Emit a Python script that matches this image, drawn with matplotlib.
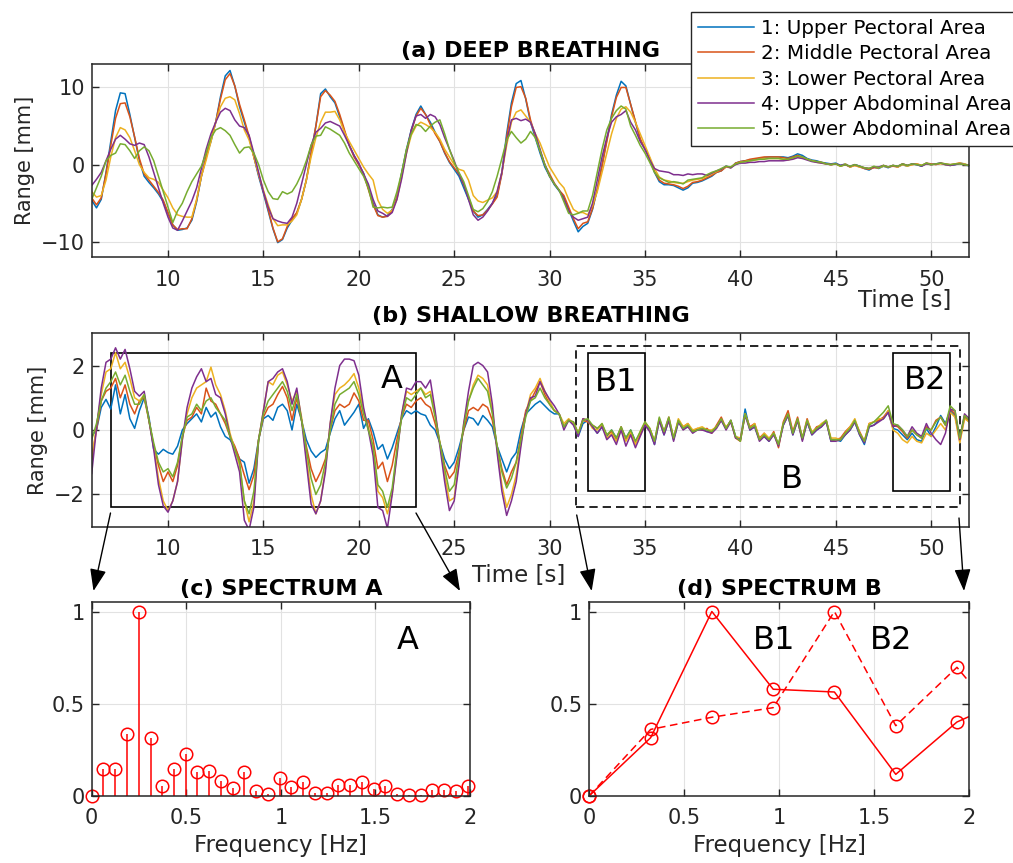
import numpy as np
import matplotlib.pyplot as plt
from matplotlib.patches import Rectangle, FancyArrowPatch
from matplotlib.ticker import FormatStrFormatter

W, H = 1013, 863

# time grid (s) shared by both breathing records, one sample every 0.25 s
t = np.linspace(6, 52, 185)

labels = ['1: Upper Pectoral Area', '2: Middle Pectoral Area', '3: Lower Pectoral Area',
          '4: Upper Abdominal Area', '5: Lower Abdominal Area']
colors = ['#0072BD', '#D95319', '#EDB120', '#7E2F8E', '#77AC30']

# (a) deep breathing, range in mm
deep_1 = [-4.6, -5.6, -4.5, -1.0, 3.0, 7.0, 9.3, 9.2,
          6.5, 3.5, 0.5, -1.5, -2.3, -3.0, -3.8, -4.8,
          -6.3, -7.8, -8.5, -8.4, -8.2, -7.2, -4.8, -1.5,
          1.0, 3.0, 5.5, 8.8, 11.5, 12.2, 10.2, 7.5,
          5.5, 3.5, 1.0, -1.5, -3.7, -6.0, -8.3, -10.1,
          -9.7, -8.2, -7.2, -6.3, -4.5, -2.0, 1.5, 5.0,
          9.2, 9.8, 8.8, 8.0, 6.2, 4.3, 2.5, 1.2,
          0.0, -1.1, -3.0, -5.0, -6.5, -6.8, -6.6, -5.8,
          -4.2, -1.0, 2.0, 4.5, 6.5, 7.6, 6.5, 5.5,
          4.2, 3.0, 1.5, 0.3, -0.6, -1.5, -3.0, -4.5,
          -6.0, -6.8, -6.5, -5.8, -5.0, -4.0, -1.0, 4.0,
          8.0, 10.5, 10.9, 8.5, 5.5, 3.5, 1.5, -0.3,
          -1.5, -2.6, -3.4, -4.2, -5.8, -7.3, -8.7, -8.0,
          -7.6, -5.8, -3.2, 0.0, 3.2, 6.5, 9.0, 10.8,
          10.2, 7.8, 5.5, 3.2, 2.0, 0.8, -1.0, -2.2,
          -2.6, -2.6, -2.7, -3.0, -3.3, -3.0, -2.4, -2.3,
          -2.1, -1.8, -1.5, -1.0, -0.8, -0.2, -0.4, 0.2,
          0.4, 0.5, 0.6, 0.7, 0.8, 0.9, 1.0, 1.0,
          1.0, 1.0, 0.9, 1.1, 1.4, 1.2, 0.8, 0.6,
          0.5, 0.3, 0.2, 0.1, 0.2, -0.1, 0.1, -0.3,
          0.0, -0.2, -0.5, -0.7, -0.3, -0.5, -0.2, -0.4,
          -0.1, -0.3, 0.0, -0.2, 0.1, 0.0, -0.2, 0.2,
          0.0, 0.1, 0.2, 0.0, -0.1, 0.0, 0.2, 0.1,
          -0.2]
deep_2 = [-4.3, -5.2, -4.3, -1.2, 2.5, 6.0, 7.9, 8.0,
          6.2, 3.6, 0.8, -1.2, -2.0, -2.8, -3.6, -4.6,
          -6.2, -7.8, -8.4, -8.3, -8.3, -7.0, -4.6, -1.5,
          1.0, 3.2, 5.5, 8.5, 11.0, 11.8, 10.2, 7.8,
          5.8, 3.7, 1.0, -1.3, -3.5, -5.8, -8.2, -10.0,
          -9.6, -8.0, -7.0, -6.2, -4.5, -2.0, 1.5, 5.0,
          8.8, 9.6, 9.0, 8.2, 6.5, 4.5, 2.5, 1.0,
          0.0, -1.2, -3.2, -5.2, -6.6, -6.8, -6.7, -6.0,
          -4.2, -1.2, 1.8, 4.3, 6.3, 7.3, 6.5, 5.2,
          4.0, 3.0, 1.6, 0.4, -0.4, -1.2, -2.6, -4.2,
          -6.0, -6.6, -6.5, -5.9, -5.1, -4.2, -1.2, 3.5,
          7.5, 10.0, 10.1, 8.6, 5.8, 3.8, 1.8, 0.0,
          -1.2, -2.4, -3.3, -4.0, -5.5, -7.0, -8.3, -7.6,
          -7.4, -5.7, -3.2, -0.2, 3.0, 6.2, 8.7, 10.0,
          10.0, 7.8, 5.6, 3.4, 2.0, 0.8, -0.9, -2.0,
          -2.4, -2.5, -2.6, -2.8, -3.1, -2.8, -2.3, -2.2,
          -2.0, -1.7, -1.4, -1.0, -0.8, -0.3, -0.4, 0.2,
          0.4, 0.5, 0.7, 0.8, 0.9, 1.0, 1.0, 1.0,
          1.0, 0.9, 0.8, 1.0, 1.2, 1.0, 0.7, 0.5,
          0.4, 0.3, 0.1, 0.0, 0.1, -0.2, 0.0, -0.3,
          -0.1, -0.3, -0.5, -0.6, -0.4, -0.4, -0.1, -0.3,
          -0.2, -0.3, 0.1, -0.1, 0.0, 0.1, -0.1, 0.2,
          0.1, 0.0, 0.2, 0.1, 0.0, 0.1, 0.2, 0.0,
          -0.1]
deep_3 = [-3.5, -4.2, -4.0, -2.0, 1.0, 3.5, 4.8, 4.5,
          3.5, 1.8, 0.0, -1.0, -1.7, -1.9, -2.3, -3.3,
          -4.3, -5.6, -6.5, -6.7, -6.8, -6.8, -4.5, -1.5,
          0.6, 3.0, 5.5, 7.5, 8.6, 8.8, 8.4, 6.6,
          4.5, 3.2, 1.0, -1.2, -3.3, -5.2, -7.0, -7.9,
          -7.8, -7.8, -7.3, -6.5, -4.5, -2.0, 1.0, 3.5,
          5.5, 6.8, 6.8, 6.9, 5.8, 4.2, 3.0, 1.9,
          0.8, -0.3, -1.2, -2.0, -4.6, -5.8, -6.3, -5.9,
          -4.5, -1.5, 1.5, 3.8, 5.0, 5.5, 5.2, 4.8,
          4.2, 3.3, 2.0, 1.0, 0.0, -0.6, -0.8, -2.0,
          -4.0, -4.7, -4.9, -4.6, -4.3, -3.5, -1.0, 2.5,
          5.5, 6.8, 7.1, 6.3, 5.5, 4.0, 2.8, 1.2,
          -0.3, -1.3, -2.3, -3.0, -4.5, -5.8, -6.2, -6.2,
          -6.5, -5.3, -3.5, -1.0, 1.5, 4.0, 6.0, 7.2,
          7.5, 6.8, 5.5, 4.0, 2.5, 1.0, -0.5, -1.6,
          -2.0, -2.1, -2.3, -2.4, -2.4, -2.2, -2.0, -1.9,
          -1.8, -1.5, -1.2, -0.9, -0.6, -0.3, -0.3, 0.1,
          0.3, 0.4, 0.5, 0.6, 0.7, 0.8, 0.8, 0.8,
          0.8, 0.7, 0.6, 0.8, 1.0, 0.9, 0.7, 0.5,
          0.3, 0.2, 0.1, 0.0, 0.1, -0.2, 0.1, -0.3,
          -0.1, -0.3, -0.4, -0.5, -0.3, -0.4, -0.2, -0.3,
          -0.1, -0.3, 0.0, -0.2, 0.0, 0.1, -0.1, 0.1,
          0.0, 0.1, 0.1, 0.0, -0.1, 0.1, 0.2, 0.1,
          -0.1]
deep_4 = [-2.7, -1.9, -1.0, 0.5, 2.0, 3.3, 3.8, 3.3,
          2.7, 2.5, 2.8, 2.6, 1.0, -1.0, -3.0, -5.0,
          -6.8, -8.2, -8.5, -7.3, -6.0, -4.7, -3.0, -0.5,
          2.0, 4.0, 5.5, 6.8, 7.3, 7.0, 5.8, 5.0,
          4.8, 3.8, 1.5, -1.0, -3.5, -5.5, -7.0, -7.3,
          -7.5, -7.6, -6.8, -5.0, -2.5, 0.0, 2.5, 4.2,
          4.7, 5.4, 5.6, 5.3, 5.0, 3.8, 2.5, 1.2,
          0.2, -1.2, -2.5, -4.5, -6.0, -6.3, -6.7, -6.2,
          -4.5, -1.8, 1.5, 4.5, 6.3, 6.5, 6.0, 6.5,
          6.2, 5.2, 3.5, 2.0, 0.5, -1.2, -2.5, -4.5,
          -6.5, -7.2, -6.8, -6.0, -5.0, -3.5, -1.0, 3.0,
          5.8, 6.0, 5.7, 5.9, 5.5, 4.0, 2.0, 0.0,
          -1.5, -2.5, -3.3, -4.5, -6.0, -6.8, -7.2, -7.0,
          -6.8, -5.0, -2.0, 1.0, 3.5, 5.5, 6.2, 6.5,
          7.0, 5.5, 4.5, 3.0, 2.0, 0.6, -0.5, -0.8,
          -0.9, -1.0, -1.3, -1.3, -1.4, -1.2, -1.3, -1.2,
          -1.2, -1.4, -1.1, -0.8, -0.6, -0.2, -0.4, 0.0,
          0.2, 0.2, 0.3, 0.3, 0.4, 0.4, 0.5, 0.5,
          0.5, 0.5, 0.6, 0.7, 0.9, 0.8, 0.6, 0.4,
          0.3, 0.2, 0.1, 0.0, 0.1, -0.1, 0.0, -0.2,
          0.0, -0.2, -0.4, -0.5, -0.3, -0.3, -0.1, -0.3,
          -0.1, -0.2, 0.1, -0.1, 0.1, 0.0, -0.2, 0.1,
          0.0, 0.1, 0.2, 0.0, -0.1, 0.0, 0.1, 0.0,
          -0.1]
deep_5 = [-4.5, -3.0, -1.5, 0.5, 1.2, 1.5, 2.7, 2.6,
          1.8, 0.8, 1.8, 2.3, 1.8, 0.5, -1.5, -3.5,
          -5.5, -7.5, -6.0, -5.0, -3.5, -2.2, -1.2, -0.2,
          1.5, 3.5, 4.5, 4.8, 4.4, 3.8, 2.6, 1.5,
          2.2, 2.3, 1.5, 0.0, -2.0, -3.5, -4.4, -4.5,
          -3.5, -3.8, -3.5, -2.5, -1.2, 0.5, 2.5, 3.7,
          3.8, 4.9, 4.6, 4.2, 3.8, 2.8, 1.5, 0.5,
          -0.5, -1.5, -3.0, -5.5, -5.6, -5.5, -5.6, -5.5,
          -3.5, -1.0, 2.0, 4.0, 5.2, 5.0, 4.3, 5.0,
          5.5, 5.8, 4.0, 2.0, 0.3, -1.0, -2.2, -4.0,
          -5.8, -6.1, -5.7, -4.8, -3.5, -1.5, 0.8, 3.2,
          4.3, 3.5, 2.8, 3.3, 4.3, 3.5, 1.8, 0.0,
          -1.5, -2.5, -3.3, -4.8, -6.3, -6.5, -6.3, -6.0,
          -6.0, -4.0, -1.0, 2.0, 4.5, 6.0, 7.0, 7.6,
          7.2, 5.0, 3.8, 2.5, 1.5, 0.3, -1.0, -1.7,
          -2.0, -2.3, -2.2, -2.3, -2.5, -2.0, -1.9, -1.8,
          -1.7, -1.3, -1.0, -0.8, -0.5, -0.2, -0.3, 0.1,
          0.3, 0.4, 0.5, 0.6, 0.7, 0.7, 0.8, 0.8,
          0.8, 0.7, 0.7, 0.9, 1.1, 1.0, 0.7, 0.5,
          0.4, 0.3, 0.1, 0.0, 0.1, -0.2, 0.0, -0.2,
          0.0, -0.2, -0.4, -0.5, -0.2, -0.4, -0.1, -0.3,
          -0.1, -0.2, 0.1, -0.1, 0.1, 0.0, -0.1, 0.2,
          0.0, 0.1, 0.2, 0.1, 0.0, 0.1, 0.1, 0.0,
          -0.1]

# (b) shallow breathing, range in mm
shallow_1 = [-0.2, 0.0, 0.7, 0.95, 0.65, 1.4, 0.5, 1.1,
             0.35, 0.05, 0.6, 1.0, 0.4, -0.6, -0.75, -0.6,
             -0.7, -0.75, -0.5, 0.0, 0.2, 0.35, 0.5, 0.25,
             0.7, 0.4, 0.55, 0.1, -0.2, -0.3, -0.55, -0.9,
             -1.0, -1.65, -1.2, -0.3, 0.35, 0.45, 0.3, 0.7,
             0.8, 0.6, 0.0, 0.8, 0.3, -0.3, -0.65, -0.85,
             -0.7, -0.6, -0.1, 0.35, 0.6, 0.15, 0.35, 0.55,
             0.8, 0.05, 0.35, -0.05, -0.6, -0.45, -0.9, -0.55,
             -0.1, 0.35, 0.6, 0.5, 0.6, 0.5, 0.45, 0.15,
             0.0, -0.4, -0.9, -1.2, -1.0, -0.55, 0.0, 0.4,
             0.35, 0.15, 0.45, 0.3, 0.1, -0.5, -0.9, -1.3,
             -0.9, -0.7, 0.0, 0.5, 0.65, 0.8, 0.9, 0.75,
             0.6, 0.5, 0.5, 0.1, 0.3, 0.2, -0.2, 0.2,
             0.3, 0.1, -0.1, 0.1, -0.2, 0.0, -0.25, 0.05,
             -0.25, 0.0, -0.35, -0.1, 0.15, 0.0, -0.45, 0.3,
             -0.15, 0.3, -0.3, 0.25, 0.05, 0.1, 0.0, 0.0,
             0.05, -0.05, -0.05, 0.1, 0.3, 0.05, 0.3, -0.2,
             -0.3, 0.65, 0.0, 0.1, -0.3, -0.2, -0.35, -0.1,
             -0.45, 0.15, 0.45, -0.15, 0.3, -0.3, 0.25, -0.15,
             0.0, 0.1, 0.3, -0.35, -0.3, -0.35, -0.15, 0.0,
             0.25, -0.15, -0.45, 0.1, 0.15, 0.3, 0.35, 0.55,
             0.05, 0.0, -0.15, -0.3, -0.1, -0.3, -0.35, 0.05,
             -0.2, 0.1, 0.45, 0.2, 0.6, 0.45, -0.25, 0.4,
             0.25]
shallow_2 = [-0.9, 0.0, 0.9, 1.2, 1.3, 1.6, 1.0, 1.4,
             0.8, 0.5, 0.9, 1.0, 0.3, -0.5, -1.1, -1.6,
             -1.3, -1.6, -1.1, -0.2, 0.3, 0.4, 0.7, 0.5,
             1.3, 0.9, 0.8, 0.5, 0.2, -0.2, -0.5, -0.9,
             -1.4, -1.85, -1.4, -0.3, 0.4, 0.7, 0.8, 1.1,
             1.35, 1.0, 0.3, 1.0, 0.3, -0.5, -1.2, -1.6,
             -1.3, -0.9, 0.0, 0.6, 0.8, 0.7, 0.8, 1.15,
             0.9, 0.3, 0.3, -0.3, -1.2, -1.0, -1.6, -1.1,
             -0.3, 0.4, 0.8, 0.7, 0.9, 1.0, 0.8, 0.7,
             0.2, -0.4, -1.1, -1.5, -1.3, -0.7, 0.0, 0.6,
             0.7, 0.6, 0.8, 0.7, 0.3, -0.5, -1.2, -1.7,
             -1.3, -1.0, -0.2, 0.6, 0.9, 1.2, 1.5, 1.1,
             0.8, 0.6, 0.5, 0.1, 0.3, 0.25, -0.1, 0.3,
             0.25, 0.15, 0.05, 0.15, -0.15, -0.05, -0.3, 0.1,
             -0.3, -0.1, -0.4, -0.15, 0.2, 0.05, -0.35, 0.35,
             -0.05, 0.4, -0.25, 0.3, 0.1, 0.2, -0.05, 0.05,
             0.0, 0.05, -0.1, 0.15, 0.4, 0.05, 0.3, -0.25,
             -0.35, 0.5, 0.1, 0.2, -0.25, -0.1, -0.3, -0.05,
             -0.55, 0.25, 0.6, -0.05, 0.4, -0.25, 0.35, -0.1,
             0.1, 0.15, 0.3, -0.3, -0.3, -0.25, -0.05, 0.1,
             0.3, -0.05, -0.35, 0.2, 0.25, 0.3, 0.4, 0.6,
             0.15, 0.1, -0.05, -0.25, 0.0, -0.15, -0.25, 0.1,
             0.0, 0.3, 0.4, 0.15, 0.65, 0.5, -0.35, 0.4,
             0.3]
shallow_3 = [-0.9, 0.1, 1.1, 1.8, 1.9, 2.4, 1.9, 2.1,
             1.6, 1.0, 0.9, 1.1, 0.3, -0.5, -1.5, -2.2,
             -2.5, -2.2, -1.6, -0.3, 0.5, 1.0, 1.3, 1.4,
             1.5, 1.95, 1.4, 1.1, 0.6, -0.1, -0.6, -1.1,
             -2.2, -2.85, -2.2, -0.3, 0.6, 1.5, 1.4, 1.7,
             1.8, 1.4, 0.9, 1.2, 0.4, -0.8, -2.0, -2.6,
             -2.2, -1.2, 0.2, 1.1, 1.3, 1.4, 1.55, 1.75,
             1.3, 0.6, 0.1, -0.6, -1.9, -2.1, -2.6, -2.0,
             -0.7, 0.5, 1.2, 1.1, 1.2, 1.3, 1.1, 1.2,
             0.5, -0.4, -1.4, -2.2, -2.1, -1.0, 0.2, 0.9,
             1.4, 1.7, 1.6, 1.4, 0.6, -0.6, -1.7, -2.4,
             -2.0, -1.4, -0.4, 0.5, 1.1, 1.3, 1.6, 1.2,
             0.9, 0.6, 0.5, 0.2, 0.35, 0.2, -0.1, 0.35,
             0.3, 0.05, 0.0, 0.2, -0.25, -0.1, -0.35, 0.0,
             -0.35, -0.05, -0.45, -0.05, 0.25, 0.05, -0.35, 0.3,
             -0.1, 0.3, -0.25, 0.35, 0.1, 0.2, 0.0, 0.05,
             0.1, 0.0, 0.0, 0.1, 0.3, 0.1, 0.25, -0.2,
             -0.25, 0.5, 0.05, 0.2, -0.3, -0.1, -0.25, -0.1,
             -0.45, 0.2, 0.45, -0.1, 0.3, -0.3, 0.3, -0.05,
             0.05, 0.2, 0.3, -0.25, -0.25, -0.3, -0.1, 0.1,
             0.35, -0.1, -0.35, 0.2, 0.25, 0.35, 0.35, 0.6,
             0.0, -0.1, -0.3, -0.4, -0.2, -0.35, -0.4, -0.1,
             -0.2, 0.0, 0.2, 0.0, 0.55, 0.4, -0.4, 0.35,
             0.25]
shallow_4 = [-1.35, 0.05, 1.3, 2.1, 2.2, 2.55, 2.2, 2.5,
             1.9, 1.2, 1.05, 1.2, 0.3, -0.6, -1.7, -2.35,
             -2.55, -2.2, -1.6, -0.3, 0.7, 1.3, 1.65, 1.9,
             1.5, 1.6, 1.1, 1.0, 0.5, -0.2, -0.75, -1.3,
             -2.8, -3.1, -2.4, -0.3, 0.6, 1.5, 1.6, 1.8,
             1.9, 1.5, 0.8, 1.3, 0.3, -1.0, -2.3, -2.6,
             -2.2, -1.3, 0.2, 1.3, 2.0, 2.2, 2.2, 2.15,
             1.7, 0.7, 0.0, -0.8, -2.4, -2.5, -3.05, -2.0,
             -0.8, 0.5, 1.3, 1.25, 1.5, 1.5, 1.3, 1.55,
             0.6, -0.5, -1.6, -2.5, -2.2, -1.1, 0.2, 1.2,
             2.0, 2.1, 2.0, 1.8, 0.8, -0.7, -1.9, -2.65,
             -2.2, -1.6, -0.5, 0.5, 1.0, 1.05, 1.5, 1.2,
             0.95, 0.75, 0.5, 0.0, 0.3, 0.15, -0.2, 0.35,
             0.3, 0.1, -0.1, 0.1, -0.3, -0.15, -0.45, 0.0,
             -0.5, -0.15, -0.55, -0.2, 0.15, -0.05, -0.45, 0.3,
             -0.15, 0.3, -0.35, 0.25, 0.0, 0.1, -0.1, 0.0,
             0.0, -0.05, -0.1, 0.05, 0.3, 0.0, 0.25, -0.25,
             -0.3, 0.45, 0.0, 0.1, -0.35, -0.2, -0.35, -0.15,
             -0.5, 0.15, 0.45, -0.15, 0.3, -0.35, 0.25, -0.15,
             0.0, 0.1, 0.25, -0.35, -0.35, -0.3, -0.15, 0.0,
             0.25, -0.15, -0.4, 0.1, 0.15, 0.25, 0.35, 0.55,
             0.1, 0.15, 0.0, -0.2, 0.1, -0.1, -0.2, 0.2,
             -0.1, -0.3, -0.45, -0.1, 0.65, 0.6, -0.3, 0.5,
             0.35]
shallow_5 = [-0.3, 0.2, 0.9, 1.3, 1.5, 1.8, 1.4, 1.7,
             1.2, 0.8, 0.8, 1.1, 0.3, -0.4, -1.0, -1.3,
             -1.2, -1.45, -1.0, -0.2, 0.4, 0.5, 0.8, 0.6,
             0.9, 1.0, 0.7, 0.5, 0.3, -0.2, -0.6, -1.0,
             -2.2, -2.6, -1.9, -0.3, 0.5, 0.9, 1.1, 1.3,
             1.5, 1.2, 0.6, 1.1, 0.3, -0.6, -1.5, -2.0,
             -1.7, -1.0, 0.0, 0.8, 1.1, 1.2, 1.3, 1.5,
             1.1, 0.5, 0.0, -0.5, -1.7, -1.9, -2.4, -1.8,
             -0.6, 0.4, 1.0, 0.9, 1.1, 1.3, 1.0, 1.1,
             0.4, -0.4, -1.2, -1.9, -1.7, -0.8, 0.1, 0.9,
             1.3, 1.6, 1.4, 1.2, 0.5, -0.5, -1.3, -1.8,
             -1.5, -1.0, -0.3, 0.4, 0.9, 1.0, 1.3, 1.0,
             0.8, 0.6, 0.5, 0.1, 0.3, 0.25, -0.1, 0.3,
             0.35, 0.15, 0.05, 0.2, -0.15, 0.0, -0.25, 0.1,
             -0.25, 0.0, -0.35, -0.05, 0.25, 0.05, -0.35, 0.4,
             -0.05, 0.4, -0.25, 0.3, 0.05, 0.15, -0.05, 0.0,
             0.05, 0.0, -0.05, 0.1, 0.35, 0.05, 0.3, -0.2,
             -0.35, 0.5, 0.05, 0.15, -0.3, -0.15, -0.3, -0.1,
             -0.45, 0.2, 0.5, -0.1, 0.35, -0.25, 0.3, -0.1,
             0.05, 0.15, 0.3, -0.3, -0.3, -0.3, -0.1, 0.05,
             0.3, -0.1, -0.35, 0.15, 0.25, 0.4, 0.55, 0.75,
             0.2, 0.15, 0.0, -0.2, 0.0, -0.15, -0.25, 0.05,
             0.0, 0.25, 0.4, 0.15, 0.75, 0.6, -0.25, 0.45,
             0.3]

deep = [deep_1, deep_2, deep_3, deep_4, deep_5]
shallow = [shallow_1, shallow_2, shallow_3, shallow_4, shallow_5]

# (c) normalised spectrum of window A
freq_a = [0.0, 0.062, 0.124, 0.186, 0.248, 0.311, 0.373, 0.435, 0.497, 0.559, 0.621,
          0.683, 0.745, 0.807, 0.870, 0.932, 0.994, 1.056, 1.118, 1.180, 1.242, 1.304,
          1.366, 1.429, 1.491, 1.553, 1.615, 1.677, 1.739, 1.801, 1.863, 1.925, 1.988]
spec_a = [0.0, 0.145, 0.145, 0.333, 1.0, 0.313, 0.053, 0.145, 0.228, 0.129, 0.132,
          0.078, 0.043, 0.129, 0.025, 0.009, 0.094, 0.045, 0.074, 0.016, 0.016, 0.058,
          0.058, 0.072, 0.034, 0.051, 0.011, 0.004, 0.002, 0.029, 0.031, 0.027, 0.053]

# (d) normalised spectra of windows B1 and B2 (last bin lies past 2 Hz)
freq_b = [0.0, 0.323, 0.645, 0.968, 1.290, 1.613, 1.935, 2.258]
spec_b1 = [0.0, 0.315, 1.0, 0.578, 0.563, 0.116, 0.40, 0.55]
spec_b2 = [0.0, 0.36, 0.426, 0.478, 1.0, 0.38, 0.697, 0.30]

dark = '#262626'


def style(ax):
    ax.grid(True, color='#e2e2e2', linewidth=0.8)
    ax.set_axisbelow(True)
    ax.tick_params(direction='in', top=True, right=True, length=5, width=1,
                   labelsize=15, colors=dark)
    ax.tick_params(axis='x', pad=9)
    ax.tick_params(axis='y', pad=5)
    for s in ax.spines.values():
        s.set_color(dark)
        s.set_linewidth(1.1)


def frac(x, y):
    return x / W, 1 - y / H


fig = plt.figure(figsize=(W / 100, H / 100), dpi=100)

ax_a = fig.add_axes([91.7 / W, 1 - 257.3 / H, 877.6 / W, 193 / H])
ax_b = fig.add_axes([91.7 / W, 1 - 526.7 / H, 877.6 / W, 193.4 / H])
ax_c = fig.add_axes([91.7 / W, 1 - 795.7 / H, 378.3 / W, 193.4 / H])
ax_d = fig.add_axes([589.3 / W, 1 - 795.7 / H, 380 / W, 193.4 / H])

# ---- (a) deep breathing
handles = []
for y, c in zip(deep, colors):
    h, = ax_a.plot(t, y, color=c, lw=1.1)
    handles.append(h)
ax_a.set_xlim(6, 52)
ax_a.set_ylim(-12, 13)
ax_a.set_xticks(range(10, 51, 5))
ax_a.set_yticks([-10, 0, 10])
style(ax_a)
ax_a.set_title('(a) DEEP BREATHING', fontsize=16, fontweight='bold', pad=5)
ax_a.set_ylabel('Range [mm]', fontsize=15, color=dark)
ax_a.set_xlabel('Time [s]', fontsize=16.5, color=dark)
ax_a.xaxis.set_label_coords(0.9268, -0.226)
ax_a.xaxis.label.set_va('center')

# ---- (b) shallow breathing
for y, c in zip(shallow, colors):
    ax_b.plot(t, y, color=c, lw=1.1)
ax_b.set_xlim(6, 52)
ax_b.set_ylim(-3, 3)
ax_b.set_xticks(range(10, 51, 5))
ax_b.set_yticks([-2, 0, 2])
style(ax_b)
ax_b.set_title('(b) SHALLOW BREATHING', fontsize=16, fontweight='bold', pad=8)
ax_b.set_ylabel('Range [mm]', fontsize=15, color=dark)
ax_b.set_xlabel('Time [s]', fontsize=16.5, color=dark)
ax_b.xaxis.set_label_coords(0.4869, -0.25)
ax_b.xaxis.label.set_va('center')

ax_b.add_patch(Rectangle((7, -2.4), 16, 4.8, fill=False, ec='k', lw=1.2))
ax_b.add_patch(Rectangle((31.4, -2.4), 20.1, 5.0, fill=False, ec='k', lw=1.2, ls=(0, (5, 3))))
ax_b.add_patch(Rectangle((32, -1.9), 3, 4.3, fill=False, ec='k', lw=1.2))
ax_b.add_patch(Rectangle((48, -1.9), 3, 4.3, fill=False, ec='k', lw=1.2))
ax_b.text(21.7, 1.58, 'A', fontsize=23, ha='center', va='center')
ax_b.text(33.5, 1.48, 'B1', fontsize=23, ha='center', va='center')
ax_b.text(49.7, 1.53, 'B2', fontsize=23, ha='center', va='center')
ax_b.text(42.7, -1.55, 'B', fontsize=23, ha='center', va='center')

# ---- (c) spectrum A
ml, sl, bl = ax_c.stem(freq_a, spec_a, linefmt='r-', markerfmt='ro', basefmt=' ')
ml.set_markerfacecolor('none')
ml.set_markersize(9)
ml.set_markeredgewidth(1.1)
ml.set_clip_on(False)
sl.set_linewidth(1.1)
ax_c.set_xlim(0, 2)
ax_c.set_ylim(0, 1.05)
ax_c.set_xticks([0, 0.5, 1, 1.5, 2])
ax_c.set_yticks([0, 0.5, 1])
style(ax_c)
ax_c.xaxis.set_major_formatter(FormatStrFormatter('%g'))
ax_c.yaxis.set_major_formatter(FormatStrFormatter('%g'))
ax_c.set_title('(c) SPECTRUM A', fontsize=16, fontweight='bold', pad=5)
ax_c.set_xlabel('Frequency [Hz]', fontsize=16.5, color=dark, labelpad=4)
ax_c.text(1.67, 0.84, 'A', fontsize=23, ha='center', va='center')

# ---- (d) spectrum B
fb = np.array(freq_b)
inside = fb <= 2
ax_d.plot(freq_b, spec_b1, color='r', lw=1.1)
ax_d.plot(freq_b, spec_b2, color='r', lw=1.1, ls=(0, (5, 3)))
for s in (spec_b1, spec_b2):
    ax_d.plot(fb[inside], np.array(s)[inside], ls='none', marker='o', mfc='none',
              mec='r', ms=9, mew=1.1, clip_on=False)
ax_d.set_xlim(0, 2)
ax_d.set_ylim(0, 1.05)
ax_d.set_xticks([0, 0.5, 1, 1.5, 2])
ax_d.set_yticks([0, 0.5, 1])
style(ax_d)
ax_d.xaxis.set_major_formatter(FormatStrFormatter('%g'))
ax_d.yaxis.set_major_formatter(FormatStrFormatter('%g'))
ax_d.set_title('(d) SPECTRUM B', fontsize=16, fontweight='bold', pad=5)
ax_d.set_xlabel('Frequency [Hz]', fontsize=16.5, color=dark, labelpad=4)
ax_d.text(0.971, 0.84, 'B1', fontsize=23, ha='center', va='center')
ax_d.text(1.589, 0.84, 'B2', fontsize=23, ha='center', va='center')

# arrows linking the windows in (b) to the spectra
arrows = [((110.5, 513), (93.5, 591)), ((416, 513), (460, 591)),
          ((576.7, 515), (591.7, 591)), ((959, 518), (964, 591))]
for p0, p1 in arrows:
    fig.add_artist(FancyArrowPatch(frac(*p0), frac(*p1), transform=fig.transFigure,
                                   arrowstyle='-|>,head_length=0.75,head_width=0.28',
                                   mutation_scale=18, color='k', lw=1.0,
                                   shrinkA=0, shrinkB=0))

fig.legend(handles, labels, loc='upper left', bbox_to_anchor=frac(691, 12),
           borderaxespad=0, fontsize=14.3, frameon=True, fancybox=False,
           edgecolor=dark, framealpha=1, handlelength=2.8, handletextpad=0.35,
           borderpad=0.35, labelspacing=0.32)

fig.savefig('out.png', dpi=100)
